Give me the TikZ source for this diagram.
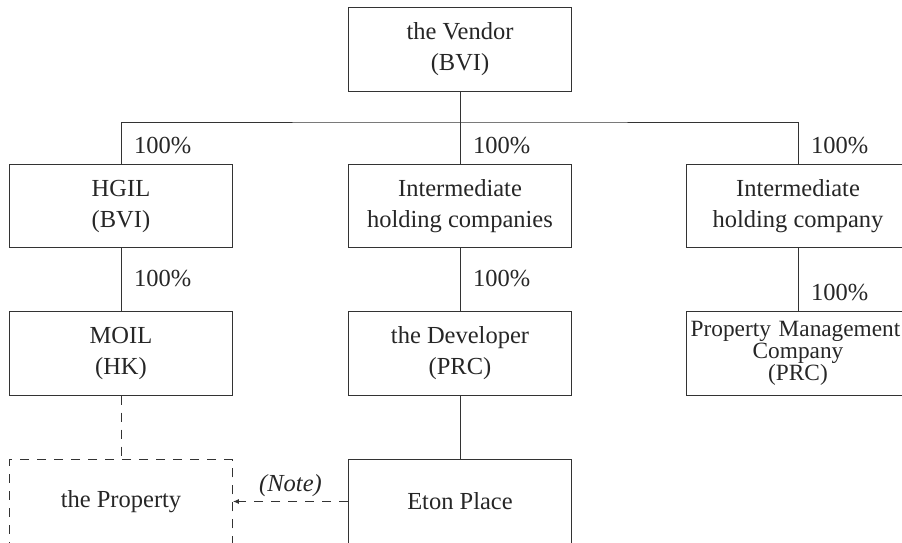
\documentclass[tikz,border=0pt]{standalone}
\usepackage{fontspec}
\setmainfont{Liberation Serif}
\usetikzlibrary{arrows.meta}
\begin{document}
\begin{tikzpicture}[x=1pt,y=-1pt,
  every node/.style={font=\fontsize{24.5}{31}\selectfont, text=black!85},
  box/.style={draw=black!80, line width=0.9pt, minimum width=223pt, minimum height=83.5pt, align=center, inner sep=0pt},
  dbox/.style={box, dashed, dash pattern=on 9pt off 8pt},
  pct/.style={anchor=base west, inner sep=0pt},
  link/.style={draw=black!80, line width=0.9pt},
  dlink/.style={link, dash pattern=on 9pt off 8pt}]
\useasboundingbox (0,0) rectangle (902,542);
\clip (0,0) rectangle (902,542);
% boxes
\node[box] (vendor) at (460,49.5) {the Vendor\\(BVI)};
\node[box] (hgil) at (121,206) {HGIL\\(BVI)};
\node[box] (ihcs) at (460,206) {Intermediate\\holding companies};
\node[box] (ihc) at (798,206) {Intermediate\\holding company};
\node[box] (moil) at (121,353.5) {MOIL\\(HK)};
\node[box] (dev) at (460,353.5) {the Developer\\(PRC)};
\node[box, font=\fontsize{23.3}{22}\selectfont, text width=223pt] (pmc) at (798,353.5) {\hspace*{-5pt}Property Management\\Company\\(PRC)};
\node[dbox] (prop) at (121,501.5) {the Property};
\node[box] (eton) at (460,501.5) {Eton Place};
% connectors
\coordinate (bus) at (460,122);
\path[link] (vendor.south) -- (bus);
\path[link] (hgil.north) |- (bus) -| (ihc.north);
\path[link] (bus) -- (ihcs.north);
\path[link] (hgil.south) -- (moil.north);
\path[link] (ihcs.south) -- (dev.north);
\path[link] (ihc.south) -- (pmc.north);
\path[link] (dev.south) -- (eton.north);
\path[dlink] (moil.south) -- (prop.north);
\path[dlink, -{Latex[length=6pt,width=5pt]}] (eton.west) -- (prop.east)
  node[midway, anchor=base, yshift=10pt, inner sep=0pt, font=\fontsize{24.5}{27}\selectfont\itshape] (note) {(Note)};
% percentages
\node[pct] (p1) at (134,153) {100\%};
\node[pct] (p2) at (473,153) {100\%};
\node[pct] (p3) at (811,153) {100\%};
\node[pct] (p4) at (134,286) {100\%};
\node[pct] (p5) at (473,286) {100\%};
\node[pct] (p6) at (811,300) {100\%};
\end{tikzpicture}
\end{document}
